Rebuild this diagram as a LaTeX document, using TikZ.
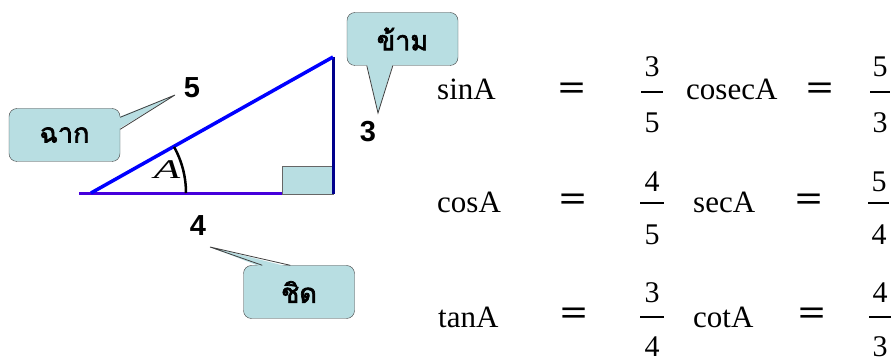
\documentclass[tikz,border=0pt]{standalone}
\usepackage{fontspec}
\usepackage{graphicx}
\setmainfont{Liberation Serif}
\setsansfont{Liberation Sans}
\newfontfamily\thaifont[Script=Thai,AutoFakeBold=2.5]{Loma}
\usetikzlibrary{calc}
\definecolor{calfill}{RGB}{184,222,226}
\definecolor{calline}{RGB}{64,64,64}
\definecolor{hypblue}{RGB}{0,0,255}
\definecolor{baseblue}{RGB}{70,0,220}
\definecolor{vertblue}{RGB}{0,0,140}
\tikzset{
 callbox/.style={draw=calline,fill=calfill,rounded corners=8pt,align=center,
             minimum width=111pt,minimum height=53pt,inner sep=0pt,
             font=\thaifont\bfseries\fontsize{27}{30}\selectfont},
 tipfill/.style={fill=calfill},
 tipline/.style={draw=calline,line width=0.8pt,line join=miter},
 sidelabel/.style={inner sep=0pt,font=\sffamily\bfseries\fontsize{29}{30}\selectfont},
 func/.style={anchor=base west,inner sep=0pt,font=\fontsize{31}{34}\selectfont},
 equal/.style={inner sep=0pt,font=\bfseries\fontsize{30}{32}\selectfont},
 digit/.style={inner sep=0pt,font=\fontsize{30}{32}\selectfont},
 fracbar/.style={line width=1.4pt}
}

\begin{document}
\begin{tikzpicture}[x=1pt,y=-1pt]
\useasboundingbox (0,0) rectangle (892,363);
% triangle
\coordinate (bl) at (79,194);
\coordinate (vb) at (91,193);
\coordinate (vt) at (333,57);
\coordinate (vr) at (333,194);
\draw[baseblue,line width=3pt] (bl) -- (320,194);
\node[draw=gray!80!black,fill=calfill,minimum width=51pt,minimum height=28pt,inner sep=0pt] (sq) at (307.5,180) {};
\draw[vertblue,line width=3pt] (vt) -- (vr);
\draw[hypblue,line width=3.5pt] (vb) -- (vt);
\draw[line width=2.5pt] ($(vb)+(95,0)$) arc[start angle=0,end angle=-29,radius=95];
\node[inner sep=0pt,font=\itshape\fontsize{27}{28}\selectfont] (anga) at (167,170) {\scalebox{1.6}[1]{A}};
% side lengths
\node[sidelabel] (hyp) at (192,88) {5};
\node[sidelabel] (opp) at (368,132) {3};
\node[sidelabel] (adj) at (198,226) {4};
% callouts
\node[callbox] (chak) at (64.5,135) {ฉาก};
\coordinate (chaktip) at (175,95);
\fill[tipfill] ($(chak.north east)+(-2,9)$) -- (chaktip) -- ($(chak.north east)+(-2,21)$) -- cycle;
\draw[tipline] ($(chak.north east)+(0,9)$) -- (chaktip) -- ($(chak.north east)+(0,21)$);
\node[callbox] (kham) at (402.5,39) {ข้าม};
\coordinate (khamtip) at (378,113);
\fill[tipfill] ($(kham.south west)+(20,-2)$) -- (khamtip) -- ($(kham.south west)+(46,-2)$) -- cycle;
\draw[tipline] ($(kham.south west)+(20,0)$) -- (khamtip) -- ($(kham.south west)+(46,0)$);
\node[callbox] (chit) at (299,292) {ชิด};
\coordinate (chittip) at (210,247);
\fill[tipfill] ($(chit.north west)+(19,2)$) -- (chittip) -- ($(chit.north west)+(47,2)$) -- cycle;
\draw[tipline] ($(chit.north west)+(19,0)$) -- (chittip) -- ($(chit.north west)+(47,0)$);
% ratios, row 1
\node[func] (sin) at (437,100) {sinA};
\node[equal] (eqs) at (572.5,92) {\scalebox{1.6}[1.25]{=}};
\node[digit] (sinn) at (652,67) {3};
\draw[fracbar] (641,92) -- (663,92);
\node[digit] (sind) at (652,123) {5};
\node[func] (cosec) at (686,100) {cosecA};
\node[equal] (eqcs) at (820,92) {\scalebox{1.6}[1.25]{=}};
\node[digit] (cosecn) at (880,67) {5};
\draw[fracbar] (870,92) -- (890,92);
\node[digit] (cosecd) at (880,123) {3};
% row 2
\node[func] (cos) at (437,213) {cosA};
\node[equal] (eqc) at (573.5,203) {\scalebox{1.6}[1.25]{=}};
\node[digit] (cosn) at (652,182) {4};
\draw[fracbar] (640,203) -- (664,203);
\node[digit] (cosd) at (652,235) {5};
\node[func] (sec) at (693,213) {secA};
\node[equal] (eqsc) at (809.5,203) {\scalebox{1.6}[1.25]{=}};
\node[digit] (secn) at (879,182) {5};
\draw[fracbar] (868,203) -- (889,203);
\node[digit] (secd) at (879,235) {4};
% row 3
\node[func] (tan) at (438,328) {tanA};
\node[equal] (eqt) at (574,317) {\scalebox{1.6}[1.25]{=}};
\node[digit] (tann) at (652,293) {3};
\draw[fracbar] (640,317) -- (664,317);
\node[digit] (tand) at (652,347) {4};
\node[func] (cot) at (693,328) {cotA};
\node[equal] (eqct) at (812,317) {\scalebox{1.6}[1.25]{=}};
\node[digit] (cotn) at (880,293) {4};
\draw[fracbar] (869,317) -- (891,317);
\node[digit] (cotd) at (880,347) {3};
\end{tikzpicture}
\end{document}
